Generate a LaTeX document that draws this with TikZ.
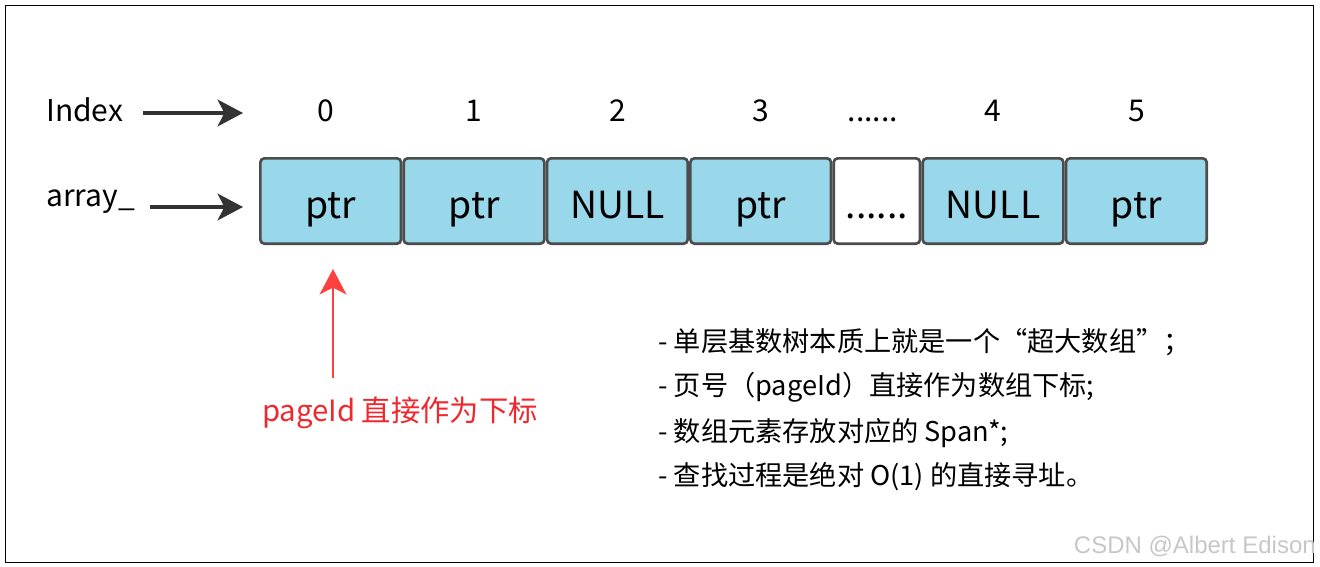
\documentclass[tikz,border=0pt]{standalone}
\usepackage{fontspec}
\setmainfont{Noto Sans CJK SC}
\newfontfamily\wmfont{Liberation Sans}
\usetikzlibrary{arrows.meta, positioning, calc}
\definecolor{cellblue}{RGB}{152,216,234}
\definecolor{arrgray}{RGB}{51,51,51}
\definecolor{hintred}{RGB}{240,40,45}
\definecolor{arrred}{RGB}{255,64,64}

\begin{document}
\begin{tikzpicture}[
    x=0.75pt, y=-0.75pt,
    node distance = 0pt,
    cell/.style = {
      rectangle, rounded corners=3pt,
      minimum width=105.5pt, minimum height=64pt,
      inner sep=0pt, draw=black!70, line width=2pt,
      fill=cellblue, font=\fontsize{28}{30}\selectfont,
      text height=25.5pt, text depth=0pt
    },
    gapcell/.style = {cell, fill=white, minimum width=64.75pt},
    lbl/.style  = {font=\fontsize{22.5}{26}\selectfont, inner sep=0pt},
    note/.style = {font=\fontsize{20.4}{24}\selectfont, inner sep=0pt, anchor=base west},
    darr/.style = {-{Stealth[length=19pt, width=20pt, inset=5pt]},
                   line width=2.6pt, arrgray},
    rarr/.style = {-{Stealth[length=19pt, width=20pt, inset=5pt]},
                   line width=2.2pt, arrred},
  ]
  \useasboundingbox (0,0) rectangle (1320,567);
  \draw[line width=0.75pt] (5.5,6) rectangle (1313,562);

  % array cells
  \node[cell] (c0) at (330.7,201) {ptr};
  \node[cell, right=of c0] (c1) {ptr};
  \node[cell, right=of c1] (c2) {NULL};
  \node[cell, right=of c2] (c3) {ptr};
  \node[gapcell, right=of c3] (cg) {......};
  \node[cell, right=of cg] (c4) {NULL};
  \node[cell, right=of c4] (c5) {ptr};

  % row labels
  \node[lbl, anchor=base west] (index) at (46,122) {Index};
  \node[lbl, anchor=base west] (array) at (46,206) {array\_};
  \node[lbl, anchor=base] (i0) at ($(c0 |- index.base)+(-5,0)$) {0};
  \node[lbl, anchor=base] (i1) at (c1 |- index.base) {1};
  \node[lbl, anchor=base] (i2) at (c2 |- index.base) {2};
  \node[lbl, anchor=base] (i3) at (c3 |- index.base) {3};
  \node[lbl, anchor=base] (ig) at ($(cg |- index.base)+(-4,0)$) {......};
  \node[lbl, anchor=base] (i4) at (c4 |- index.base) {4};
  \node[lbl, anchor=base] (i5) at (c5 |- index.base) {5};

  \coordinate (ia) at (143,113);
  \coordinate (ib) at (243,113);
  \coordinate (aa) at (150,207);
  \coordinate (ab) at (243,207);
  \draw[darr] (ia) -- (ib);
  \draw[darr] (aa) -- (ab);

  % pageId hint
  \node[font=\fontsize{22}{24}\selectfont, text=hintred, inner sep=0pt, anchor=base]
    (hint) at (400,421) {pageId 直接作为下标};
  \coordinate (ra) at (333,378);
  \draw[rarr, shorten >=18pt] (ra) -- (ra |- c0.south);

  % notes
  \node[note] (n1) at (658,351) {- 单层基数树本质上就是一个“超大数组”；};
  \node[note] (n2) at (658,395) {- 页号（pageId）直接作为数组下标;};
  \node[note] (n3) at (658,441) {- 数组元素存放对应的 Span*;};
  \node[note] (n4) at (658,485) {- 查找过程是绝对 O(1) 的直接寻址。};

  \node[font=\wmfont\fontsize{18}{20}\selectfont, text=black!22, inner sep=0pt, anchor=base east]
    (wm) at (1316,553) {CSDN @Albert Edison};
\end{tikzpicture}
\end{document}
